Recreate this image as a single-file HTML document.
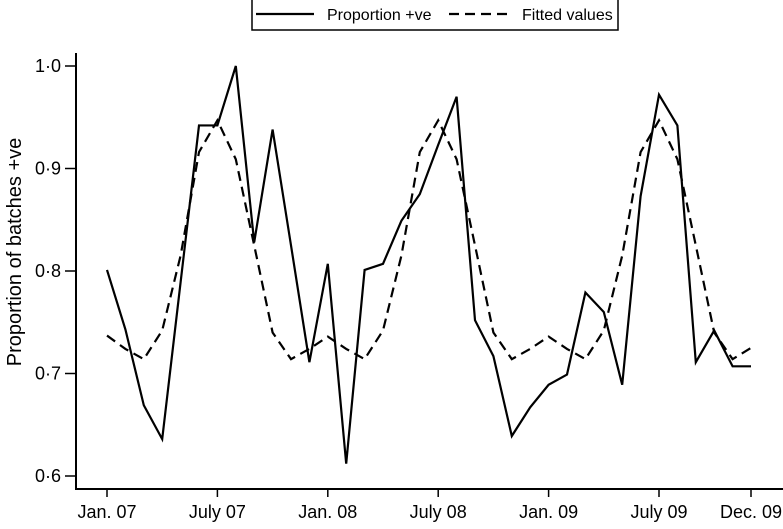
<!DOCTYPE html>
<html><head><meta charset="utf-8"><style>
body{margin:0;background:#fff;}
svg text{font-family:"Liberation Sans",Arial,sans-serif;fill:#000;}
</style></head><body>
<svg id="chart" width="783" height="524" viewBox="0 0 783 524" xmlns="http://www.w3.org/2000/svg">
<g>
<rect x="252" y="-2" width="366" height="32" fill="#fff" stroke="#000" stroke-width="1.5"/>
<line x1="256" y1="14" x2="314" y2="14" stroke="#000" stroke-width="2.2"/>
<text x="327" y="20" style="font-size:16px">Proportion +ve</text>
<line x1="449" y1="14" x2="509" y2="14" stroke="#000" stroke-width="2.2" stroke-dasharray="10,6"/>
<text x="522" y="20" style="font-size:16px">Fitted values</text>
</g>
<text transform="translate(21,252) rotate(-90)" text-anchor="middle" style="font-size:20px">Proportion of batches +ve</text>
<g id="axes"></g>
<g id="marks"></g>
</svg>
<script>
const months = [];
for (let i = 0; i < 36; i++) months.push(i);
const proportion = [0.801,0.743,0.669,0.636,0.789,0.942,0.942,1.0,0.828,0.938,0.825,0.711,
0.807,0.612,0.801,0.807,0.849,0.875,0.923,0.970,0.752,0.717,0.639,0.667,
0.689,0.699,0.779,0.760,0.689,0.873,0.972,0.942,0.711,0.742,0.707,0.707];
const fitted = [0.737,0.724,0.714,0.742,0.815,0.916,0.947,0.909,0.825,0.740,0.714,0.724,
0.736,0.724,0.714,0.742,0.815,0.916,0.947,0.909,0.825,0.740,0.714,0.724,
0.736,0.724,0.714,0.742,0.815,0.916,0.947,0.909,0.825,0.740,0.714,0.725];
const yTicks = [0.6,0.7,0.8,0.9,1.0];
const yTickLabels = ["0·6","0·7","0·8","0·9","1·0"];
const xTickMonths = [0,6,12,18,24,30,35];
const xTickLabels = ["Jan. 07","July 07","Jan. 08","July 08","Jan. 09","July 09","Dec. 09"];

function xs(m){ return 107 + m*(751-107)/35; }
function ys(v){ return 66 + (1.0 - v)*1025; }
const NS = "http://www.w3.org/2000/svg";
const axes = document.getElementById('axes');
const marks = document.getElementById('marks');
function mk(tag, attrs, parent){ const e = document.createElementNS(NS, tag); for (const k in attrs) e.setAttribute(k, attrs[k]); parent.appendChild(e); return e; }

let ya = mk('line',{x1:76,y1:53,x2:76,y2:489,stroke:'#000','stroke-width':2},axes);


let xa = mk('line',{x1:75,y1:489,x2:783,y2:489,stroke:'#000','stroke-width':2},axes);


yTicks.forEach((v,i)=>{
  const t = mk('line',{x1:65,y1:ys(v),x2:76,y2:ys(v),stroke:'#000','stroke-width':1.5},axes);
  
  
  const l = mk('text',{x:61,y:ys(v)+6,'text-anchor':'end',style:'font-size:18px'},axes);
  l.textContent = yTickLabels[i];
  
  
});
xTickMonths.forEach((m,i)=>{
  const t = mk('line',{x1:xs(m),y1:489,x2:xs(m),y2:497,stroke:'#000','stroke-width':1.5},axes);
  
  
  const l = mk('text',{x:xs(m),y:518,'text-anchor':'middle',style:'font-size:18px'},axes);
  l.textContent = xTickLabels[i];
  
  
});
const pf = mk('polyline',{points:months.map(m=>xs(m)+','+ys(fitted[m])).join(' '),fill:'none',stroke:'#000','stroke-width':2.2,'stroke-dasharray':'10,6'},marks);


const pp = mk('polyline',{points:months.map(m=>xs(m)+','+ys(proportion[m])).join(' '),fill:'none',stroke:'#000','stroke-width':2.2,'stroke-linejoin':'miter'},marks);


</script>
</body></html>
